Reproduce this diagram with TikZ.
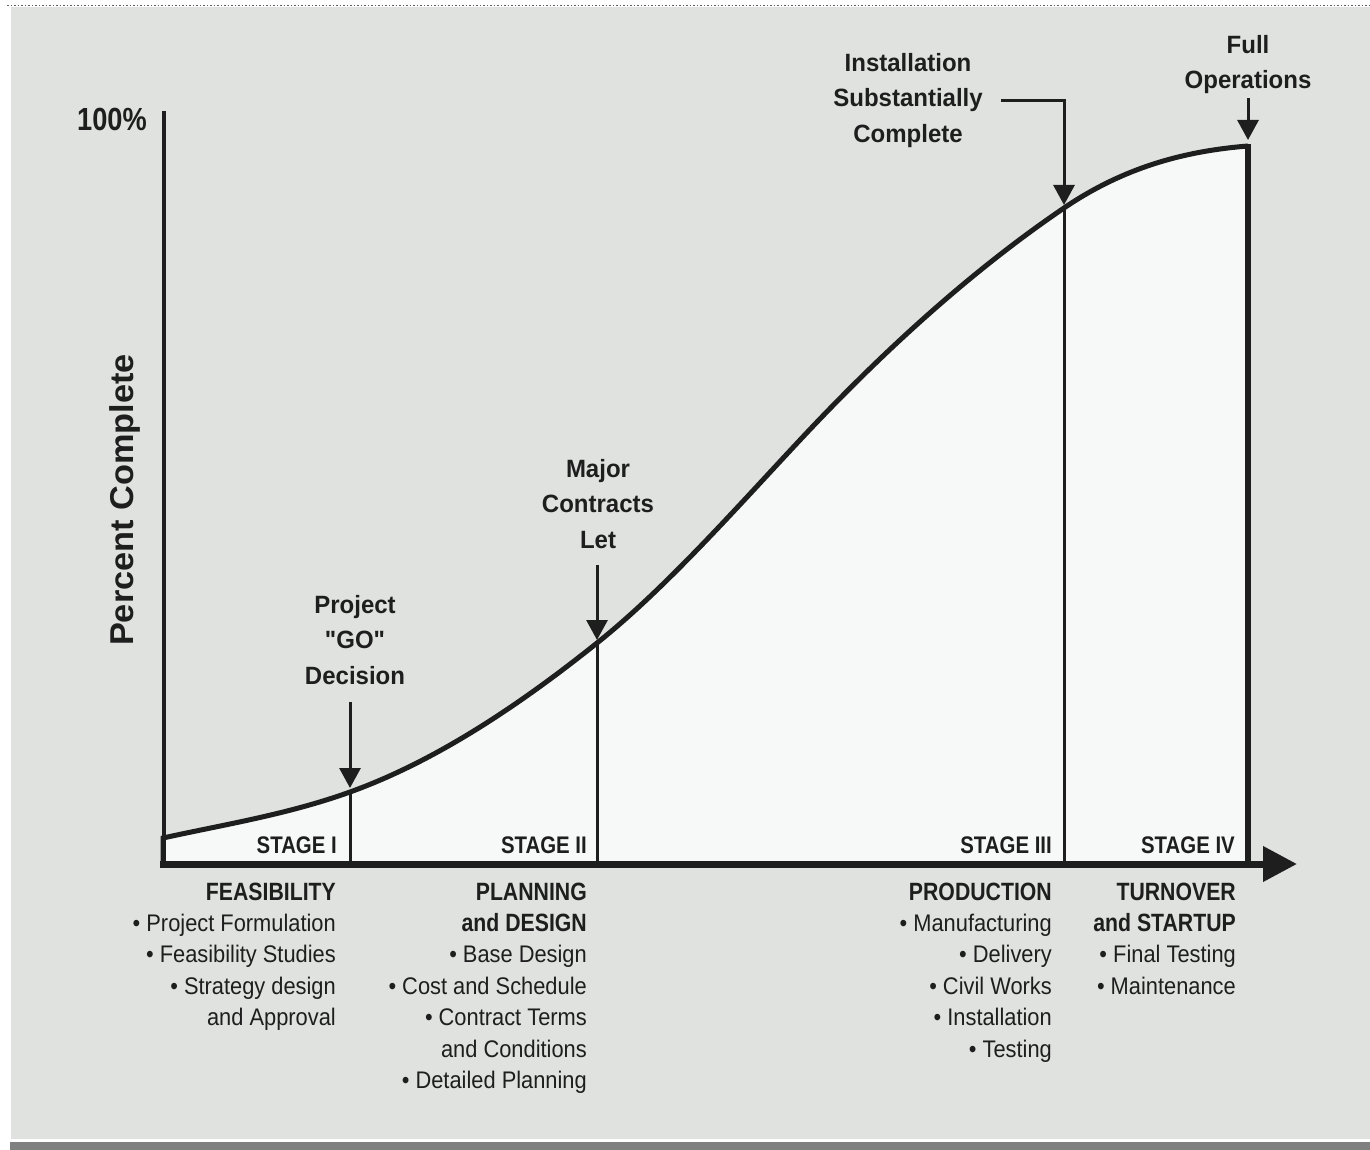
\documentclass[tikz,border=0pt]{standalone}
\usepackage{fontspec}
\setmainfont{Liberation Sans}
\newfontfamily\regf{Liberation Sans}[FakeStretch=0.91]
\newfontfamily\capf{Liberation Sans}[FakeStretch=0.85]
\newfontfamily\labf{Liberation Sans}[FakeStretch=0.96]
\newfontfamily\axf{Liberation Sans}[FakeStretch=1.04]
\usetikzlibrary{arrows.meta,calc}
\definecolor{bg}{HTML}{DFE2DF}
\definecolor{area}{HTML}{F6F9F7}
\definecolor{ink}{HTML}{1E1E1E}
\definecolor{band}{HTML}{808080}
\begin{document}
\begin{tikzpicture}[x=1pt,y=-1pt,
  lab/.style={font=\labf\bfseries\fontsize{25}{35.5}\selectfont, text=ink, align=center, inner sep=0pt, anchor=north},
  stg/.style={font=\capf\bfseries\fontsize{24}{28}\selectfont, text=ink, inner sep=0pt, anchor=base east},
  head/.style={font=\capf\bfseries\fontsize{25}{30}\selectfont, text=ink, inner sep=0pt, anchor=base east},
  itm/.style={font=\regf\fontsize{24}{30}\selectfont, text=ink, inner sep=0pt, anchor=base east},
  arr/.style={draw=ink, line width=3pt, -{Triangle[length=20pt,width=21pt]}},
  stageline/.style={draw=ink, line width=3pt},
]
\useasboundingbox (0,0) rectangle (1370,1150);
% background
\fill[white] (0,0) rectangle (1370,1150);
\fill[bg] (11,7) rectangle (1370,1139);
\draw[ink!70, dotted, line width=1.5pt] (7,5.5) -- (1370,5.5);
\fill[band] (10,1142) rectangle (1370,1150);

% key coordinates
\coordinate (O) at (163,864);
\coordinate (yTop) at (164,111);
\coordinate (xEnd) at (1297,864);
\coordinate (p0) at (163,838);
\coordinate (p1) at (350,792);
\coordinate (p2) at (597,643);
\coordinate (pm) at (800,440);
\coordinate (p3) at (1064,208);
\coordinate (p4) at (1248,146);

% area under curve
\fill[area] (O) -- (p0)
  .. controls (225.3,824.3) and (287.7,814.4) .. (p1)
  .. controls (432.3,762.4) and (514.7,708.9) .. (p2)
  .. controls (664.7,588.9) and (732.3,512.4) .. (pm)
  .. controls (888,345.8) and (976,267.8) .. (p3)
  .. controls (1125.3,166.3) and (1186.7,150.9) .. (p4)
  -- (p4 |- O) -- cycle;

% y axis
\draw[ink, line width=3.5pt] (yTop) -- (yTop |- O);

% stage dividers
\draw[stageline] (p1) -- (p1 |- O);
\draw[stageline] (p2) -- (p2 |- O);
\draw[stageline] (p3) -- (p3 |- O);

% curve outline
\draw[ink, line width=5pt] (O) -- (p0)
  .. controls (225.3,824.3) and (287.7,814.4) .. (p1)
  .. controls (432.3,762.4) and (514.7,708.9) .. (p2)
  .. controls (664.7,588.9) and (732.3,512.4) .. (pm)
  .. controls (888,345.8) and (976,267.8) .. (p3)
  .. controls (1125.3,166.3) and (1186.7,150.9) .. (p4);
\draw[ink, line width=6.5pt] ([yshift=1.5pt]p4) -- (p4 |- O);

% x axis
\draw[ink, line width=7pt, -{Triangle[length=34pt,width=34pt]}] ($(O)+(-3,0)$) -- (xEnd);

% axis labels
\node[font=\capf\bfseries\fontsize{32}{36}\selectfont, text=ink, inner sep=0pt, anchor=base east] (hundred) at (147,131) {100\%};
\node[font=\axf\bfseries\fontsize{33}{38}\selectfont, text=ink, inner sep=0pt, anchor=base, rotate=90] (ylab) at (133,500) {Percent Complete};

% stage labels
\node[stg] (s1) at (337,853) {STAGE I};
\node[stg] (s2) at (587,853) {STAGE II};
\node[stg] (s3) at (1052,853) {STAGE III};
\node[stg] (s4) at (1235,853) {STAGE IV};

% milestone labels
\node[lab] (go) at (355,595) {Project\\"GO"\\Decision};
\node[lab] (major) at (598,459) {Major\\Contracts\\Let};
\node[lab] (inst) at (908,53) {Installation\\Substantially\\Complete};
\node[lab] (full) at (1248,35) {Full\\Operations};

\coordinate (goTip) at (350,788);
\coordinate (majTip) at (597,640);
\coordinate (instTip) at (1064,205);
\coordinate (fullTip) at (1248,140);

\draw[arr] ($(go.south -| goTip)+(0,17)$) -- (goTip);
\draw[arr] ($(major.south -| majTip)+(0,16)$) -- (majTip);
\draw[arr] ($(inst.east)+(18,0)$) -| (instTip);
\draw[arr] ($(full.south -| fullTip)+(0,4)$) -- (fullTip);

% column 1
\node[head] (c1h) at (336,900) {FEASIBILITY};
\node[itm] (c1a) at (336,931.4) {• Project Formulation};
\node[itm] (c1b) at (336,962.8) {• Feasibility Studies};
\node[itm] (c1c) at (336,994.2) {• Strategy design};
\node[itm] (c1d) at (336,1025.6) {and Approval};
% column 2
\node[head] (c2h) at (587,900) {PLANNING};
\node[head] (c2g) at (587,931.4) {and DESIGN};
\node[itm] (c2a) at (587,962.8) {• Base Design};
\node[itm] (c2b) at (587,994.2) {• Cost and Schedule};
\node[itm] (c2c) at (587,1025.6) {• Contract Terms};
\node[itm] (c2d) at (587,1057) {and Conditions};
\node[itm] (c2e) at (587,1088.4) {• Detailed Planning};
% column 3
\node[head] (c3h) at (1052,900) {PRODUCTION};
\node[itm] (c3a) at (1052,931.4) {• Manufacturing};
\node[itm] (c3b) at (1052,962.8) {• Delivery};
\node[itm] (c3c) at (1052,994.2) {• Civil Works};
\node[itm] (c3d) at (1052,1025.6) {• Installation};
\node[itm] (c3e) at (1052,1057) {• Testing};
% column 4
\node[head] (c4h) at (1236,900) {TURNOVER};
\node[head] (c4g) at (1236,931.4) {and STARTUP};
\node[itm] (c4a) at (1236,962.8) {• Final Testing};
\node[itm] (c4b) at (1236,994.2) {• Maintenance};
\end{tikzpicture}
\end{document}
